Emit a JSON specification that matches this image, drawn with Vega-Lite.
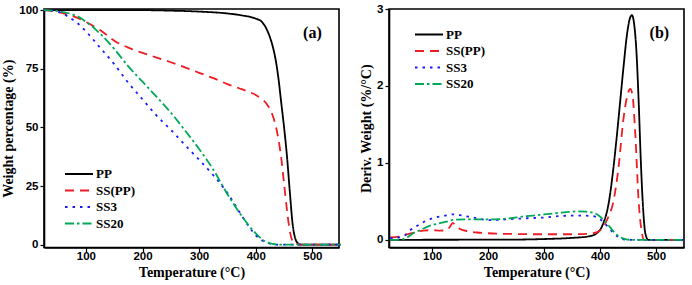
{
  "$schema": "https://vega.github.io/schema/vega-lite/v6.json",
  "background": "white",
  "padding": {"left": 1, "top": 2, "right": 3, "bottom": 0},
  "spacing": 12,
  "config": {
    "view": {"stroke": "black", "strokeWidth": 1.6},
    "axis": {
      "grid": false, "domainColor": "black", "domainWidth": 1.6,
      "tickColor": "black", "tickSize": 4, "tickWidth": 1.2, "labelOverlap": false,
      "labelFont": "Liberation Sans", "labelFontWeight": "bold", "labelFontSize": 11.5, "labelColor": "black", "labelPadding": 2,
      "titleFont": "Liberation Serif", "titleFontWeight": "bold", "titleFontSize": 14, "titleColor": "black", "titlePadding": 3
    },
    "axisX": {"labelPadding": -1},
    "legend": {
      "orient": "none", "title": null, "symbolType": "M-2,0H2", "symbolSize": 196, "symbolStrokeWidth": 1.8,
      "labelFont": "Liberation Serif", "labelFontWeight": "bold", "labelFontSize": 13, "labelColor": "black", "labelOffset": 9, "rowPadding": 1.5
    }
  },
  "datasets": {
    "tga": [
      {"sample": "PP", "temp": 25, "weight": 100}, {"sample": "PP", "temp": 100, "weight": 100}, {"sample": "PP", "temp": 200, "weight": 100},
      {"sample": "PP", "temp": 250, "weight": 99.8}, {"sample": "PP", "temp": 300, "weight": 99.4}, {"sample": "PP", "temp": 350, "weight": 98.6},
      {"sample": "PP", "temp": 375, "weight": 97.8}, {"sample": "PP", "temp": 400, "weight": 96.4}, {"sample": "PP", "temp": 410, "weight": 95.2},
      {"sample": "PP", "temp": 420, "weight": 91.5}, {"sample": "PP", "temp": 425, "weight": 88.5}, {"sample": "PP", "temp": 430, "weight": 84.5},
      {"sample": "PP", "temp": 435, "weight": 79}, {"sample": "PP", "temp": 440, "weight": 71}, {"sample": "PP", "temp": 445, "weight": 60.5},
      {"sample": "PP", "temp": 450, "weight": 50}, {"sample": "PP", "temp": 455, "weight": 38}, {"sample": "PP", "temp": 460, "weight": 23},
      {"sample": "PP", "temp": 465, "weight": 9}, {"sample": "PP", "temp": 470, "weight": 2.5}, {"sample": "PP", "temp": 475, "weight": 0.5},
      {"sample": "PP", "temp": 480, "weight": 0}, {"sample": "PP", "temp": 550, "weight": 0},

      {"sample": "SS(PP)", "temp": 25, "weight": 100}, {"sample": "SS(PP)", "temp": 50, "weight": 99.2}, {"sample": "SS(PP)", "temp": 75, "weight": 97.6},
      {"sample": "SS(PP)", "temp": 100, "weight": 95}, {"sample": "SS(PP)", "temp": 125, "weight": 91.5}, {"sample": "SS(PP)", "temp": 150, "weight": 87},
      {"sample": "SS(PP)", "temp": 175, "weight": 84}, {"sample": "SS(PP)", "temp": 200, "weight": 81.8}, {"sample": "SS(PP)", "temp": 225, "weight": 79.8},
      {"sample": "SS(PP)", "temp": 250, "weight": 77.8}, {"sample": "SS(PP)", "temp": 275, "weight": 75.6}, {"sample": "SS(PP)", "temp": 300, "weight": 73.3},
      {"sample": "SS(PP)", "temp": 325, "weight": 71}, {"sample": "SS(PP)", "temp": 350, "weight": 68.5}, {"sample": "SS(PP)", "temp": 375, "weight": 66.3},
      {"sample": "SS(PP)", "temp": 400, "weight": 63.8}, {"sample": "SS(PP)", "temp": 410, "weight": 62.3}, {"sample": "SS(PP)", "temp": 420, "weight": 59.8},
      {"sample": "SS(PP)", "temp": 430, "weight": 55}, {"sample": "SS(PP)", "temp": 435, "weight": 51}, {"sample": "SS(PP)", "temp": 440, "weight": 45},
      {"sample": "SS(PP)", "temp": 445, "weight": 37}, {"sample": "SS(PP)", "temp": 450, "weight": 26}, {"sample": "SS(PP)", "temp": 455, "weight": 15},
      {"sample": "SS(PP)", "temp": 460, "weight": 6}, {"sample": "SS(PP)", "temp": 465, "weight": 1.5}, {"sample": "SS(PP)", "temp": 470, "weight": 0.3},
      {"sample": "SS(PP)", "temp": 480, "weight": 0}, {"sample": "SS(PP)", "temp": 550, "weight": 0},

      {"sample": "SS3", "temp": 25, "weight": 100}, {"sample": "SS3", "temp": 40, "weight": 99.8}, {"sample": "SS3", "temp": 55, "weight": 99},
      {"sample": "SS3", "temp": 70, "weight": 97}, {"sample": "SS3", "temp": 85, "weight": 94.5}, {"sample": "SS3", "temp": 100, "weight": 91},
      {"sample": "SS3", "temp": 125, "weight": 84}, {"sample": "SS3", "temp": 150, "weight": 77}, {"sample": "SS3", "temp": 175, "weight": 69},
      {"sample": "SS3", "temp": 200, "weight": 62}, {"sample": "SS3", "temp": 225, "weight": 55}, {"sample": "SS3", "temp": 250, "weight": 49},
      {"sample": "SS3", "temp": 275, "weight": 42.5}, {"sample": "SS3", "temp": 300, "weight": 36.2}, {"sample": "SS3", "temp": 325, "weight": 29.6},
      {"sample": "SS3", "temp": 350, "weight": 22}, {"sample": "SS3", "temp": 375, "weight": 12.5}, {"sample": "SS3", "temp": 390, "weight": 7},
      {"sample": "SS3", "temp": 400, "weight": 4}, {"sample": "SS3", "temp": 410, "weight": 2}, {"sample": "SS3", "temp": 420, "weight": 0.8},
      {"sample": "SS3", "temp": 430, "weight": 0.2}, {"sample": "SS3", "temp": 440, "weight": 0}, {"sample": "SS3", "temp": 550, "weight": 0},

      {"sample": "SS20", "temp": 25, "weight": 100}, {"sample": "SS20", "temp": 50, "weight": 99.6}, {"sample": "SS20", "temp": 75, "weight": 98.3},
      {"sample": "SS20", "temp": 90, "weight": 96.8}, {"sample": "SS20", "temp": 100, "weight": 95}, {"sample": "SS20", "temp": 110, "weight": 93.3},
      {"sample": "SS20", "temp": 125, "weight": 90}, {"sample": "SS20", "temp": 150, "weight": 83.5}, {"sample": "SS20", "temp": 175, "weight": 76},
      {"sample": "SS20", "temp": 200, "weight": 69.5}, {"sample": "SS20", "temp": 225, "weight": 63}, {"sample": "SS20", "temp": 250, "weight": 56.3},
      {"sample": "SS20", "temp": 275, "weight": 48.7}, {"sample": "SS20", "temp": 300, "weight": 40.8}, {"sample": "SS20", "temp": 325, "weight": 32},
      {"sample": "SS20", "temp": 350, "weight": 21.5}, {"sample": "SS20", "temp": 375, "weight": 12.3}, {"sample": "SS20", "temp": 390, "weight": 7.5},
      {"sample": "SS20", "temp": 400, "weight": 4.8}, {"sample": "SS20", "temp": 410, "weight": 2.5}, {"sample": "SS20", "temp": 420, "weight": 1},
      {"sample": "SS20", "temp": 430, "weight": 0.3}, {"sample": "SS20", "temp": 440, "weight": 0}, {"sample": "SS20", "temp": 550, "weight": 0}
    ],
    "dtg": [
      {"sample": "PP", "temp": 25, "deriv": 0}, {"sample": "PP", "temp": 250, "deriv": 0.003}, {"sample": "PP", "temp": 300, "deriv": 0.01},
      {"sample": "PP", "temp": 350, "deriv": 0.025}, {"sample": "PP", "temp": 380, "deriv": 0.045}, {"sample": "PP", "temp": 395, "deriv": 0.09},
      {"sample": "PP", "temp": 405, "deriv": 0.2}, {"sample": "PP", "temp": 416, "deriv": 0.5}, {"sample": "PP", "temp": 424, "deriv": 0.94},
      {"sample": "PP", "temp": 430, "deriv": 1.35}, {"sample": "PP", "temp": 436, "deriv": 1.8}, {"sample": "PP", "temp": 442, "deriv": 2.25},
      {"sample": "PP", "temp": 448, "deriv": 2.66}, {"sample": "PP", "temp": 453, "deriv": 2.87}, {"sample": "PP", "temp": 457, "deriv": 2.92},
      {"sample": "PP", "temp": 461, "deriv": 2.8}, {"sample": "PP", "temp": 465, "deriv": 2.45}, {"sample": "PP", "temp": 469, "deriv": 1.8},
      {"sample": "PP", "temp": 473, "deriv": 1.0}, {"sample": "PP", "temp": 477, "deriv": 0.4}, {"sample": "PP", "temp": 481, "deriv": 0.08},
      {"sample": "PP", "temp": 486, "deriv": 0}, {"sample": "PP", "temp": 550, "deriv": 0},

      {"sample": "SS(PP)", "temp": 25, "deriv": 0.03}, {"sample": "SS(PP)", "temp": 40, "deriv": 0.04}, {"sample": "SS(PP)", "temp": 55, "deriv": 0.07},
      {"sample": "SS(PP)", "temp": 70, "deriv": 0.1}, {"sample": "SS(PP)", "temp": 85, "deriv": 0.12}, {"sample": "SS(PP)", "temp": 100, "deriv": 0.125},
      {"sample": "SS(PP)", "temp": 115, "deriv": 0.12}, {"sample": "SS(PP)", "temp": 126, "deriv": 0.125}, {"sample": "SS(PP)", "temp": 132, "deriv": 0.17},
      {"sample": "SS(PP)", "temp": 137, "deriv": 0.22}, {"sample": "SS(PP)", "temp": 142, "deriv": 0.18}, {"sample": "SS(PP)", "temp": 150, "deriv": 0.14},
      {"sample": "SS(PP)", "temp": 165, "deriv": 0.11}, {"sample": "SS(PP)", "temp": 180, "deriv": 0.095}, {"sample": "SS(PP)", "temp": 200, "deriv": 0.085},
      {"sample": "SS(PP)", "temp": 250, "deriv": 0.075}, {"sample": "SS(PP)", "temp": 300, "deriv": 0.072}, {"sample": "SS(PP)", "temp": 350, "deriv": 0.072},
      {"sample": "SS(PP)", "temp": 380, "deriv": 0.08}, {"sample": "SS(PP)", "temp": 395, "deriv": 0.1}, {"sample": "SS(PP)", "temp": 405, "deriv": 0.16},
      {"sample": "SS(PP)", "temp": 415, "deriv": 0.3}, {"sample": "SS(PP)", "temp": 424, "deriv": 0.5}, {"sample": "SS(PP)", "temp": 433, "deriv": 0.94},
      {"sample": "SS(PP)", "temp": 442, "deriv": 1.58}, {"sample": "SS(PP)", "temp": 448, "deriv": 1.85}, {"sample": "SS(PP)", "temp": 454, "deriv": 1.96},
      {"sample": "SS(PP)", "temp": 458, "deriv": 1.88}, {"sample": "SS(PP)", "temp": 463, "deriv": 1.37}, {"sample": "SS(PP)", "temp": 469, "deriv": 0.5},
      {"sample": "SS(PP)", "temp": 475, "deriv": 0.08}, {"sample": "SS(PP)", "temp": 479, "deriv": 0}, {"sample": "SS(PP)", "temp": 550, "deriv": 0},

      {"sample": "SS3", "temp": 25, "deriv": 0.02}, {"sample": "SS3", "temp": 40, "deriv": 0.03}, {"sample": "SS3", "temp": 50, "deriv": 0.05},
      {"sample": "SS3", "temp": 60, "deriv": 0.12}, {"sample": "SS3", "temp": 75, "deriv": 0.19}, {"sample": "SS3", "temp": 90, "deriv": 0.25},
      {"sample": "SS3", "temp": 105, "deriv": 0.29}, {"sample": "SS3", "temp": 120, "deriv": 0.31}, {"sample": "SS3", "temp": 137, "deriv": 0.33},
      {"sample": "SS3", "temp": 150, "deriv": 0.32}, {"sample": "SS3", "temp": 165, "deriv": 0.3}, {"sample": "SS3", "temp": 180, "deriv": 0.28},
      {"sample": "SS3", "temp": 200, "deriv": 0.255}, {"sample": "SS3", "temp": 220, "deriv": 0.26}, {"sample": "SS3", "temp": 240, "deriv": 0.27},
      {"sample": "SS3", "temp": 270, "deriv": 0.28}, {"sample": "SS3", "temp": 300, "deriv": 0.29}, {"sample": "SS3", "temp": 330, "deriv": 0.31},
      {"sample": "SS3", "temp": 360, "deriv": 0.315}, {"sample": "SS3", "temp": 385, "deriv": 0.31}, {"sample": "SS3", "temp": 400, "deriv": 0.27},
      {"sample": "SS3", "temp": 410, "deriv": 0.2}, {"sample": "SS3", "temp": 420, "deriv": 0.12}, {"sample": "SS3", "temp": 430, "deriv": 0.05},
      {"sample": "SS3", "temp": 440, "deriv": 0.01}, {"sample": "SS3", "temp": 450, "deriv": 0}, {"sample": "SS3", "temp": 550, "deriv": 0},

      {"sample": "SS20", "temp": 25, "deriv": 0}, {"sample": "SS20", "temp": 45, "deriv": 0.005}, {"sample": "SS20", "temp": 55, "deriv": 0.03},
      {"sample": "SS20", "temp": 65, "deriv": 0.08}, {"sample": "SS20", "temp": 80, "deriv": 0.13}, {"sample": "SS20", "temp": 95, "deriv": 0.18},
      {"sample": "SS20", "temp": 110, "deriv": 0.21}, {"sample": "SS20", "temp": 125, "deriv": 0.235}, {"sample": "SS20", "temp": 140, "deriv": 0.26},
      {"sample": "SS20", "temp": 160, "deriv": 0.265}, {"sample": "SS20", "temp": 180, "deriv": 0.265}, {"sample": "SS20", "temp": 200, "deriv": 0.265},
      {"sample": "SS20", "temp": 220, "deriv": 0.27}, {"sample": "SS20", "temp": 240, "deriv": 0.28}, {"sample": "SS20", "temp": 260, "deriv": 0.3},
      {"sample": "SS20", "temp": 280, "deriv": 0.315}, {"sample": "SS20", "temp": 300, "deriv": 0.33}, {"sample": "SS20", "temp": 320, "deriv": 0.345},
      {"sample": "SS20", "temp": 340, "deriv": 0.36}, {"sample": "SS20", "temp": 360, "deriv": 0.37}, {"sample": "SS20", "temp": 375, "deriv": 0.365},
      {"sample": "SS20", "temp": 385, "deriv": 0.355}, {"sample": "SS20", "temp": 395, "deriv": 0.33}, {"sample": "SS20", "temp": 405, "deriv": 0.27},
      {"sample": "SS20", "temp": 415, "deriv": 0.19}, {"sample": "SS20", "temp": 425, "deriv": 0.1}, {"sample": "SS20", "temp": 435, "deriv": 0.04},
      {"sample": "SS20", "temp": 445, "deriv": 0.01}, {"sample": "SS20", "temp": 455, "deriv": 0}, {"sample": "SS20", "temp": 550, "deriv": 0}
    ]
  },
  "resolve": {
    "scale": {"color": "independent", "strokeDash": "independent"},
    "legend": {"color": "independent", "strokeDash": "independent"}
  },
  "hconcat": [
    {
      "width": 295, "height": 238.5,
      "layer": [
        {
          "data": {"name": "tga"},
          "mark": {"type": "line", "strokeWidth": 1.8, "interpolate": "monotone"},
          "encoding": {
            "x": {"field": "temp", "type": "quantitative", "scale": {"domain": [26, 547], "nice": false, "zero": false},
              "axis": {"title": "Temperature (°C)", "labelOverlap": false, "labelFlush": false, "values": [100, 200, 300, 400, 500]}},
            "y": {"field": "weight", "type": "quantitative", "scale": {"domain": [-1.2, 100.5], "nice": false, "zero": false},
              "axis": {"title": "Weight percentage (%)", "labelOverlap": false, "values": [0, 12.5, 25, 37.5, 50, 62.5, 75, 87.5, 100], "labelExpr": "datum.value % 25 === 0 ? format(datum.value, 'd') : ''"}},
            "color": {"field": "sample", "type": "nominal",
              "scale": {"domain": ["PP", "SS(PP)", "SS3", "SS20"], "range": ["#000000", "#ee1c24", "#1a1aff", "#00a859"]},
              "legend": {"legendX": 27, "legendY": 157}},
            "strokeDash": {"field": "sample", "type": "nominal",
              "scale": {"domain": ["PP", "SS(PP)", "SS3", "SS20"], "range": [[1, 0], [9, 6], [2.5, 5], [9, 3, 2.5, 3]]},
              "legend": {"legendX": 27, "legendY": 157}}
          }
        },
        {
          "data": {"values": [{}]},
          "mark": {"type": "text", "text": "(a)", "font": "Liberation Serif", "fontWeight": "bold", "fontSize": 16, "align": "center", "baseline": "middle"},
          "encoding": {"x": {"datum": 500}, "y": {"datum": 90.3}}
        }
      ]
    },
    {
      "width": 295, "height": 238.5,
      "layer": [
        {
          "data": {"name": "dtg"},
          "mark": {"type": "line", "strokeWidth": 1.8, "interpolate": "monotone"},
          "encoding": {
            "x": {"field": "temp", "type": "quantitative", "scale": {"domain": [23, 550], "nice": false, "zero": false},
              "axis": {"title": "Temperature (°C)", "labelOverlap": false, "labelFlush": false, "values": [100, 200, 300, 400, 500]}},
            "y": {"field": "deriv", "type": "quantitative", "scale": {"domain": [-0.1, 3], "nice": false, "zero": false},
              "axis": {"title": "Deriv. Weight (%/°C)", "labelOverlap": false, "values": [0, 0.5, 1, 1.5, 2, 2.5, 3], "labelExpr": "datum.value % 1 === 0 ? format(datum.value, 'd') : ''"}},
            "color": {"field": "sample", "type": "nominal",
              "scale": {"domain": ["PP", "SS(PP)", "SS3", "SS20"], "range": ["#000000", "#ee1c24", "#1a1aff", "#00a859"]},
              "legend": {"legendX": 32, "legendY": 17.5}},
            "strokeDash": {"field": "sample", "type": "nominal",
              "scale": {"domain": ["PP", "SS(PP)", "SS3", "SS20"], "range": [[1, 0], [9, 6], [2.5, 5], [9, 3, 2.5, 3]]},
              "legend": {"legendX": 32, "legendY": 17.5}}
          }
        },
        {
          "data": {"values": [{}]},
          "mark": {"type": "text", "text": "(b)", "font": "Liberation Serif", "fontWeight": "bold", "fontSize": 16, "align": "center", "baseline": "middle"},
          "encoding": {"x": {"datum": 506}, "y": {"datum": 2.69}}
        }
      ]
    }
  ]
}
